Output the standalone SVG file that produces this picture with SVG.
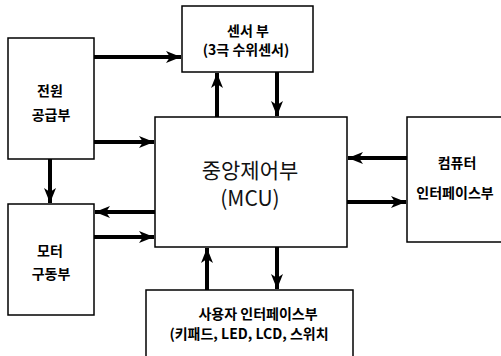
<svg xmlns="http://www.w3.org/2000/svg" width="501" height="356" viewBox="0 0 501 356">
<defs>
<style>
.box{fill:#fff;stroke:#000;stroke-width:1.5}
.t{font-family:"Noto Sans CJK KR","Noto Sans",sans-serif;font-weight:bold;font-size:14px;text-anchor:middle;fill:#000}
.big{font-family:"Noto Sans CJK KR","Noto Sans",sans-serif;font-size:21px;text-anchor:middle;fill:#111}
.c{fill:none;stroke:#000;stroke-width:4}
</style>
<marker id="ah" markerUnits="userSpaceOnUse" markerWidth="16" markerHeight="14" refX="15" refY="7" orient="auto">
<path d="M0,1 L15,7 L0,13 L4,7 Z" fill="#000"/>
</marker>
</defs>
<rect width="501" height="356" fill="#fff"/>
<g id="connectors">
<path class="c" d="M94,57 H181" marker-end="url(#ah)"/>
<path class="c" d="M94,142 H154" marker-end="url(#ah)"/>
<path class="c" d="M50,159 V203" marker-end="url(#ah)"/>
<path class="c" d="M155,212 H95" marker-end="url(#ah)"/>
<path class="c" d="M94,237 H154" marker-end="url(#ah)"/>
<path class="c" d="M217,117 V73" marker-end="url(#ah)"/>
<path class="c" d="M277,72 V116" marker-end="url(#ah)"/>
<path class="c" d="M407,158 H348" marker-end="url(#ah)"/>
<path class="c" d="M347,202 H406" marker-end="url(#ah)"/>
<path class="c" d="M207,290 V248" marker-end="url(#ah)"/>
<path class="c" d="M277,247 V289" marker-end="url(#ah)"/>
</g>
<g id="power">
<rect class="box" x="8" y="38" width="86" height="121"/>
<text class="t" x="50" y="96" font-size="15">전원</text>
<text class="t" x="51" y="120" font-size="15">공급부</text>
</g>
<g id="sensor">
<rect class="box" x="182" y="6" width="131" height="66"/>
<text class="t" x="248" y="36" font-size="13.5">센서 부</text>
<text class="t" x="246" y="55" font-size="13.5">(3극 수위센서)</text>
</g>
<g id="mcu">
<rect class="box" x="155" y="117" width="192" height="130"/>
<text class="big" x="250" y="178" font-size="22">중앙제어부</text>
<text class="big" x="250" y="206">(MCU)</text>
</g>
<g id="computer">
<rect class="box" x="407" y="117" width="100" height="125"/>
<text class="t" x="457" y="168" font-size="15">컴퓨터</text>
<text class="t" x="455" y="198" font-size="15">인터페이스부</text>
</g>
<g id="motor">
<rect class="box" x="8" y="204" width="86" height="111"/>
<text class="t" x="50" y="256" font-size="15">모터</text>
<text class="t" x="51" y="279" font-size="15">구동부</text>
</g>
<g id="user">
<rect class="box" x="146" y="290" width="207" height="70"/>
<text class="t" x="258" y="319" font-size="15">사용자 인터페이스부</text>
<text class="t" x="249" y="339" font-size="15">(키패드, LED, LCD, 스위치</text>
</g>
</svg>
